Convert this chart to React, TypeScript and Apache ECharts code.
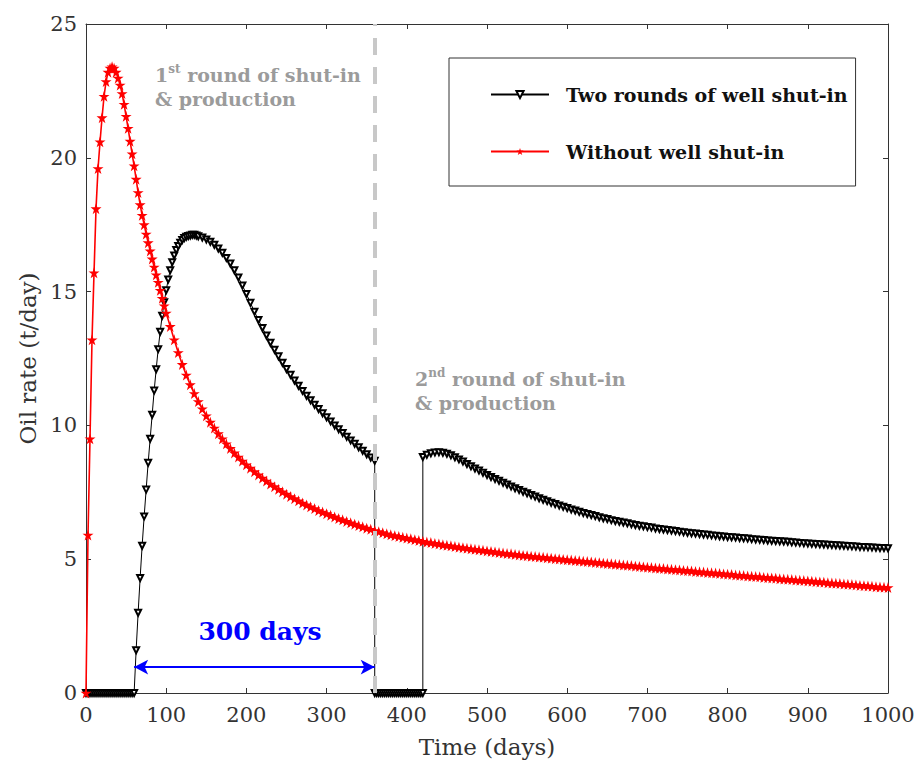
import React, { useEffect, useRef } from "react";
import * as echarts from "echarts";

// ---------- data ----------
const FONT = "DejaVu Serif";

const SERIES_BLACK = "Two rounds of well shut-in";
const SERIES_RED = "Without well shut-in";

// Without well shut-in: 0..100 days every 2.5 days
const redEarlyStart = 0;
const redEarlyStep = 2.5;
const redEarly = [
  0, 5.9, 9.5, 13.2, 15.7, 18.1, 19.6, 20.6, 21.5, 22.3,
  22.85, 23.2, 23.35, 23.4, 23.35, 23.2, 22.98, 22.72, 22.4, 22.0,
  21.55, 21.1, 20.62, 20.15, 19.7, 19.2, 18.7, 18.25, 17.85, 17.5,
  17.15, 16.83, 16.52, 16.22, 15.92, 15.63, 15.35, 15.05, 14.75, 14.47,
  14.2,
];
// Without well shut-in: 105..1000 days every 5 days
const redLateStart = 105;
const redLateStep = 5;
const redLate = [
  13.7, 13.2, 12.72, 12.28, 11.88, 11.52, 11.19, 10.89, 10.62, 10.36,
  10.12, 9.9, 9.69, 9.5, 9.31, 9.14, 8.97, 8.82, 8.67, 8.53,
  8.4, 8.27, 8.15, 8.03, 7.92, 7.81, 7.71, 7.61, 7.52, 7.43,
  7.34, 7.26, 7.18, 7.1, 7.03, 6.96, 6.89, 6.82, 6.76, 6.7,
  6.64, 6.58, 6.52, 6.47, 6.41, 6.36, 6.31, 6.26, 6.21, 6.16, 6.12,
  6.07, 6.03, 5.99, 5.95, 5.91, 5.88, 5.85, 5.82, 5.79,
  5.76, 5.73, 5.7, 5.67, 5.64, 5.62, 5.59, 5.57, 5.54, 5.52,
  5.5, 5.47, 5.45, 5.43, 5.41, 5.39, 5.37, 5.35, 5.33, 5.31,
  5.29, 5.27, 5.25, 5.23, 5.21, 5.2, 5.18, 5.16, 5.14, 5.13,
  5.11, 5.1, 5.08, 5.07, 5.05, 5.04, 5.02, 5.01, 4.99, 4.98,
  4.97, 4.95, 4.94, 4.92, 4.91, 4.9, 4.88, 4.87, 4.85, 4.84,
  4.83, 4.81, 4.8, 4.78, 4.77, 4.76, 4.74, 4.73, 4.71, 4.7,
  4.69, 4.67, 4.66, 4.65, 4.63, 4.62, 4.61, 4.6, 4.58, 4.57,
  4.56, 4.54, 4.53, 4.52, 4.5, 4.49, 4.48, 4.47, 4.45, 4.44,
  4.43, 4.41, 4.4, 4.39, 4.37, 4.36, 4.35, 4.34, 4.32, 4.31,
  4.3, 4.29, 4.27, 4.26, 4.25, 4.24, 4.22, 4.21, 4.2, 4.19,
  4.18, 4.16, 4.15, 4.14, 4.12, 4.11, 4.1, 4.09, 4.07, 4.06,
  4.05, 4.04, 4.02, 4.01, 4.0, 3.99, 3.97, 3.96, 3.95, 3.94,
];

// Two rounds of well shut-in
const shutIn1Start = 0; // first shut-in, 0..57.5 days every 2.5 days
const shutIn1Step = 2.5;
const shutIn1 = [0, 0, 0, 0, 0, 0, 0, 0, 0, 0, 0, 0, 0, 0, 0, 0, 0, 0, 0, 0, 0, 0, 0, 0];

const rise1Start = 60; // 60..137.5 days every 2.5 days
const rise1Step = 2.5;
const rise1 = [
  0, 1.6, 3.0, 4.3, 5.5, 6.6, 7.6, 8.6, 9.5, 10.4,
  11.3, 12.1, 12.85, 13.5, 14.1, 14.6, 15.05, 15.45, 15.8, 16.1,
  16.35, 16.55, 16.7, 16.83, 16.93, 17.0, 17.05, 17.08, 17.1, 17.12,
  17.12, 17.1,
];

const decline1Start = 140; // 140..360 days every 5 days
const decline1Step = 5;
const decline1 = [
  17.07, 17.02, 16.95, 16.86, 16.75, 16.61, 16.45, 16.26, 16.05, 15.8,
  15.53, 15.23, 14.91, 14.58, 14.25, 13.94, 13.64, 13.36, 13.09, 12.83,
  12.58, 12.34, 12.11, 11.89, 11.68, 11.48, 11.29, 11.11, 10.94, 10.77,
  10.61, 10.45, 10.3, 10.15, 10.0, 9.86, 9.72, 9.58, 9.44, 9.31,
  9.18, 9.05, 8.92, 8.8, 8.68,
];

const shutIn2Start = 360; // second shut-in, 360..420 days every 2.5 days
const shutIn2Step = 2.5;
const shutIn2 = [0, 0, 0, 0, 0, 0, 0, 0, 0, 0, 0, 0, 0, 0, 0, 0, 0, 0, 0, 0, 0, 0, 0, 0, 0];

const prod2Start = 420; // 420..1000 days every 5 days
const prod2Step = 5;
const prod2 = [
  8.82, 8.9, 8.96, 8.99, 9.0, 8.98, 8.94, 8.88, 8.81, 8.73,
  8.65, 8.56, 8.47, 8.39, 8.31, 8.23, 8.15, 8.07, 8.0, 7.93,
  7.86, 7.79, 7.72, 7.65, 7.59, 7.52, 7.46, 7.4, 7.34, 7.28,
  7.22, 7.17, 7.11, 7.06, 7.01, 6.96, 6.91, 6.86, 6.82, 6.77,
  6.73, 6.69, 6.65, 6.61, 6.57, 6.53, 6.5, 6.46, 6.43, 6.4,
  6.37, 6.34, 6.31, 6.28, 6.25, 6.23, 6.2, 6.18, 6.15, 6.13,
  6.11, 6.09, 6.07, 6.05, 6.03, 6.01, 5.99, 5.97, 5.96, 5.94,
  5.92, 5.91, 5.89, 5.88, 5.86, 5.85, 5.83, 5.82, 5.81, 5.79,
  5.78, 5.77, 5.75, 5.74, 5.73, 5.72, 5.7, 5.69, 5.68, 5.67,
  5.66, 5.65, 5.63, 5.62, 5.61, 5.6, 5.59, 5.58, 5.57, 5.56,
  5.55, 5.54, 5.53, 5.52, 5.51, 5.5, 5.49, 5.48, 5.47, 5.46,
  5.46, 5.45, 5.44, 5.43, 5.42, 5.42, 5.41,
];

// annotations
const shutInMarkerDay = 360;
const arrowFromDay = 60;
const arrowToDay = 360;
const arrowLevel = 0.97;
const arrowLabel = "300 days";

const xMin = 0, xMax = 1000, xInterval = 100;
const yMin = 0, yMax = 25, yInterval = 5;

// ---------- helpers ----------
const seg = (start: number, step: number, values: number[]) =>
  values.map((v, i) => [start + i * step, v]);

const STAR =
  "path://M12,0 L14.8,8.6 L24,8.6 L16.6,14 L19.4,22.8 L12,17.4 L4.6,22.8 L7.4,14 L0,8.6 L9.2,8.6 Z";

export default function App() {
  const ref = useRef<HTMLDivElement>(null);

  useEffect(() => {
    document.body.style.margin = "0";
    if (!ref.current) return;
    const chart = echarts.init(ref.current, undefined, { renderer: "svg" });

    const blackData = [
      ...seg(shutIn1Start, shutIn1Step, shutIn1),
      ...seg(rise1Start, rise1Step, rise1),
      ...seg(decline1Start, decline1Step, decline1),
      ...seg(shutIn2Start, shutIn2Step, shutIn2),
      ...seg(prod2Start, prod2Step, prod2),
    ];
    const redData = [
      ...seg(redEarlyStart, redEarlyStep, redEarly),
      ...seg(redLateStart, redLateStep, redLate),
    ];

    const axisColor = "#333";
    const mirrorX = {
      type: "value",
      min: xMin,
      max: xMax,
      interval: xInterval,
      axisLine: { show: true, onZero: false, lineStyle: { color: axisColor, width: 1 } },
      axisTick: { show: true, inside: true, length: 5, lineStyle: { color: axisColor } },
      splitLine: { show: false },
    };
    const mirrorY = {
      type: "value",
      min: yMin,
      max: yMax,
      interval: yInterval,
      axisLine: { show: true, onZero: false, lineStyle: { color: axisColor, width: 1 } },
      axisTick: { show: true, inside: true, length: 5, lineStyle: { color: axisColor } },
      splitLine: { show: false },
    };

    const richAnno = {
      b: { fontFamily: FONT, fontWeight: "bold", fontSize: 19, lineHeight: 24, fill: "#9b9b9b" },
      s: { fontFamily: FONT, fontWeight: "bold", fontSize: 12, lineHeight: 14, verticalAlign: "top", fill: "#9b9b9b" },
    };

    const option: any = {
      animation: false,
      backgroundColor: "#fff",
      grid: { left: 86, right: 34, top: 24, bottom: 78, containLabel: false },
      xAxis: [
        {
          ...mirrorX,
          position: "bottom",
          axisLabel: {
            fontFamily: FONT,
            fontSize: 21,
            color: "#333",
            margin: 11,
            formatter: (v: number) => String(v),
          },
          name: "Time (days)",
          nameLocation: "middle",
          nameGap: 42,
          nameTextStyle: { fontFamily: FONT, fontSize: 23, color: "#333" },
        },
        { ...mirrorX, position: "top", axisLabel: { show: false } },
      ],
      yAxis: [
        {
          ...mirrorY,
          position: "left",
          axisLabel: { fontFamily: FONT, fontSize: 21, color: "#333", margin: 9 },
          name: "Oil rate (t/day)",
          nameLocation: "middle",
          nameGap: 46,
          nameTextStyle: { fontFamily: FONT, fontSize: 23, color: "#333" },
        },
        { ...mirrorY, position: "right", axisLabel: { show: false } },
      ],
      legend: {
        data: [SERIES_BLACK, SERIES_RED],
        orient: "vertical",
        left: 449,
        top: 58,
        padding: [27, 8, 25, 41],
        itemGap: 38,
        itemWidth: 58,
        itemHeight: 9,
        borderColor: "#333",
        borderWidth: 1,
        selectedMode: false,
        textStyle: {
          fontFamily: FONT,
          fontWeight: "bold",
          fontSize: 19,
          color: "#111",
          padding: [0, 0, 0, 12],
        },
      },
      series: [
        {
          name: SERIES_BLACK,
          type: "line",
          data: blackData,
          symbol: "emptyTriangle",
          symbolRotate: 180,
          symbolSize: 6,
          showAllSymbol: true,
          itemStyle: { color: "#000", borderWidth: 1.3 },
          lineStyle: { color: "#000", width: 1 },
          z: 2,
        },
        {
          name: SERIES_RED,
          type: "line",
          data: redData,
          symbol: STAR,
          symbolSize: 11,
          showAllSymbol: true,
          itemStyle: { color: "#ff0000" },
          lineStyle: { color: "#ff0000", width: 1.6 },
          z: 3,
        },
        {
          name: "shut-in marker",
          type: "line",
          data: [],
          markLine: {
            silent: true,
            symbol: ["none", "none"],
            label: { show: false },
            lineStyle: { color: "#c8c8c8", width: 4, type: [17, 12] },
            data: [{ xAxis: shutInMarkerDay }],
            z: 6,
          },
        },
        {
          name: "period arrow",
          type: "line",
          data: [],
          markLine: {
            silent: true,
            symbol: ["arrow", "arrow"],
            symbolSize: [11, 14],
            label: { show: false },
            lineStyle: { color: "#0000ff", width: 2, type: "solid" },
            data: [[{ coord: [arrowFromDay, arrowLevel] }, { coord: [arrowToDay, arrowLevel] }]],
            z: 6,
          },
        },
      ],
      graphic: [
        {
          type: "text",
          x: 155,
          y: 63,
          style: {
            text: "{b|1}{s|st}{b| round of shut-in}\n{b|& production}",
            fill: "#9b9b9b",
            fontFamily: FONT,
            fontWeight: "bold",
            fontSize: 19,
            rich: richAnno,
          },
        },
        {
          type: "text",
          x: 415,
          y: 367,
          style: {
            text: "{b|2}{s|nd}{b| round of shut-in}\n{b|& production}",
            fill: "#9b9b9b",
            fontFamily: FONT,
            fontWeight: "bold",
            fontSize: 19,
            rich: richAnno,
          },
        },
        {
          type: "text",
          x: 260,
          y: 631,
          style: {
            text: arrowLabel,
            fill: "#0000ff",
            fontFamily: FONT,
            fontWeight: "bold",
            fontSize: 25,
            textAlign: "center",
            textVerticalAlign: "middle",
          },
        },
      ],
    };

    chart.setOption(option);
    return () => chart.dispose();
  }, []);

  return (
    <div
      ref={ref}
      style={{ position: "absolute", left: 0, top: 0, width: 922, height: 771 }}
    />
  );
}
